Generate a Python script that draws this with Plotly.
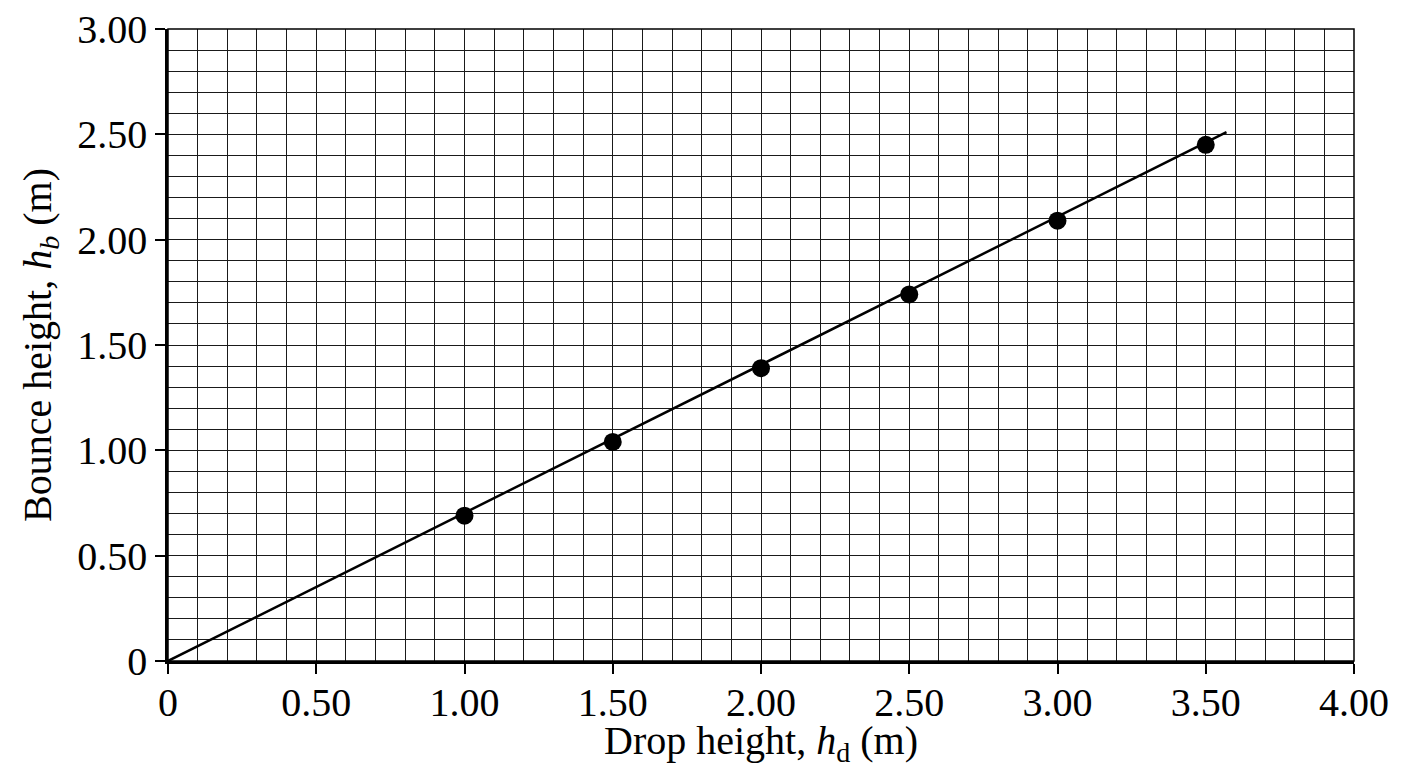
import plotly.graph_objects as go

drop_height = [1.00, 1.50, 2.00, 2.50, 3.00, 3.50]
bounce_height = [0.69, 1.04, 1.39, 1.74, 2.09, 2.45]

# best-fit line through the origin
fit_x = [0, 3.57]
fit_y = [0, 2.51]

x_ticks = [0, 0.5, 1.0, 1.5, 2.0, 2.5, 3.0, 3.5, 4.0]
x_labels = ['0', '0.50', '1.00', '1.50', '2.00', '2.50', '3.00', '3.50', '4.00']
y_ticks = [0, 0.5, 1.0, 1.5, 2.0, 2.5, 3.0]
y_labels = ['0', '0.50', '1.00', '1.50', '2.00', '2.50', '3.00']

font_family = 'Liberation Serif, Times New Roman, serif'
grid_col = '#1a1a1a'

fig = go.Figure()

fig.add_trace(go.Scatter(
    x=fit_x, y=fit_y, mode='lines',
    line=dict(color='black', width=2.5),
    hoverinfo='skip', showlegend=False
))

fig.add_trace(go.Scatter(
    x=drop_height, y=bounce_height, mode='markers',
    marker=dict(color='black', size=18),
    showlegend=False
))

axis_common = dict(
    showgrid=True, gridcolor=grid_col, gridwidth=1.2,
    showline=True, linecolor='black', linewidth=2.5,
    ticks='outside', ticklen=10, tickwidth=1.5, tickcolor='black',
    tickfont=dict(family=font_family, size=40, color='black'),
    ticklabeloverflow='allow', automargin=False,
    zeroline=False, mirror=False,
)

fig.update_xaxes(
    range=[0, 4.0], tickvals=x_ticks, ticktext=x_labels,
    minor=dict(dtick=0.1, showgrid=True, gridcolor=grid_col, gridwidth=1.2, ticks=''),
    ticklabelstandoff=-6,
    title=dict(text='Drop height, <i>h</i><sub>d</sub> (m)',
               font=dict(family=font_family, size=40, color='black'), standoff=12),
    **axis_common
)
fig.update_yaxes(
    range=[0, 3.0], tickvals=y_ticks, ticktext=y_labels,
    minor=dict(dtick=0.1, showgrid=True, gridcolor=grid_col, gridwidth=1.2, ticks=''),
    title=dict(text='Bounce height, <i>h<sub>b</sub></i> (m)',
               font=dict(family=font_family, size=40, color='black'), standoff=14),
    **axis_common
)

# thin border on the top and right of the grid
fig.add_shape(type='rect', xref='paper', yref='paper', x0=0, y0=0, x1=1, y1=1,
              line=dict(color='black', width=1.5), layer='above')

# page body adds 8px, so the figure is sized to the visible window
fig.update_layout(
    width=1400, height=760,
    margin=dict(l=160, r=54, t=21, b=107),
    plot_bgcolor='white', paper_bgcolor='white',
    font=dict(family=font_family, color='black'),
)

fig.write_html("out.html")
